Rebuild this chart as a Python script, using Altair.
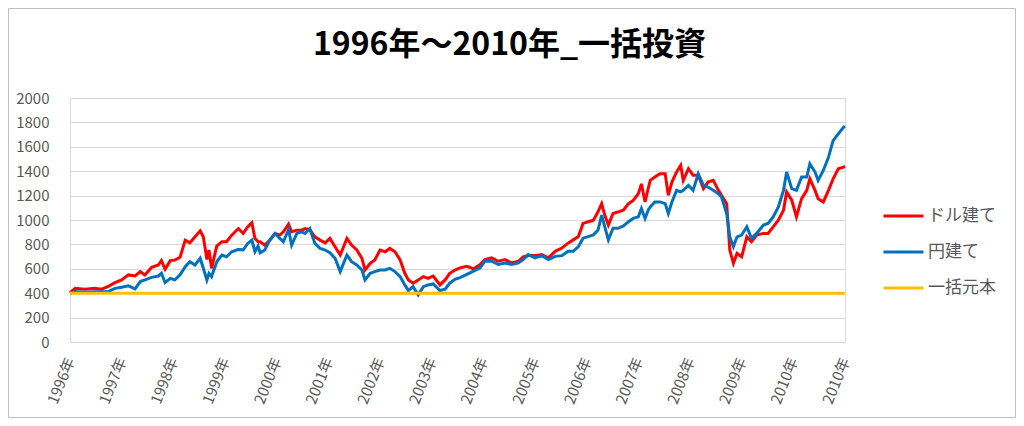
import json
import altair as alt
import pandas as pd

# time axis: years elapsed since the first tick (1996年)
T = [0.00, 0.10, 0.29, 0.48, 0.61, 0.74, 0.87, 1.00, 1.13, 1.26, 1.36, 1.45, 1.58, 1.71, 1.77, 1.84,
     1.94, 2.03, 2.13, 2.23, 2.32, 2.42, 2.52, 2.58, 2.65, 2.69, 2.74, 2.84, 2.94, 3.03, 3.13, 3.26,
     3.35, 3.44, 3.52, 3.58, 3.64, 3.68, 3.77, 3.87, 3.97, 4.06, 4.13, 4.23, 4.29, 4.39, 4.48, 4.55,
     4.64, 4.74, 4.84, 4.94, 5.03, 5.13, 5.23, 5.36, 5.45, 5.55, 5.65, 5.71, 5.81, 5.90, 6.00, 6.10,
     6.19, 6.29, 6.39, 6.48, 6.55, 6.64, 6.74, 6.84, 6.93, 7.03, 7.16, 7.26, 7.35, 7.45, 7.55, 7.68,
     7.81, 7.94, 8.03, 8.16, 8.29, 8.42, 8.55, 8.68, 8.77, 8.87, 9.00, 9.13, 9.26, 9.39, 9.52, 9.64,
     9.74, 9.84, 9.93, 10.03, 10.13, 10.22, 10.29, 10.35, 10.42, 10.51, 10.61, 10.71, 10.81, 10.90,
     11.00, 11.06, 11.13, 11.19, 11.23, 11.32, 11.42, 11.52, 11.58, 11.65, 11.74, 11.82, 11.87, 11.97,
     12.06, 12.16, 12.26, 12.35, 12.45, 12.55, 12.61, 12.71, 12.77, 12.84, 12.91, 13.00, 13.10, 13.19,
     13.29, 13.42, 13.51, 13.61, 13.71, 13.81, 13.87, 13.97, 14.06, 14.16, 14.26, 14.32, 14.42, 14.48,
     14.58, 14.68, 14.77, 14.87, 14.97, 15.00]

DOLLAR = [405, 440, 433, 440, 433, 455, 487, 509, 550, 541, 577, 550, 612, 631, 667, 596,
          667, 672, 694, 835, 813, 862, 911, 862, 677, 754, 604, 786, 822, 822, 876, 930,
          890, 944, 977, 849, 822, 822, 794, 835, 890, 876, 903, 966, 903, 917, 917, 930,
          922, 862, 835, 813, 849, 781, 713, 849, 794, 754, 686, 590, 645, 672, 754, 740,
          767, 740, 672, 563, 509, 482, 509, 536, 522, 541, 468, 509, 563, 590, 608, 621,
          600, 635, 675, 689, 662, 675, 648, 662, 697, 708, 708, 716, 689, 743, 770, 810,
          837, 864, 972, 986, 999, 1067, 1134, 1040, 959, 1053, 1067, 1080, 1134, 1161,
          1215, 1296, 1148, 1256, 1325, 1352, 1379, 1379, 1202, 1311, 1393, 1447, 1325, 1420,
          1366, 1366, 1257, 1311, 1325, 1243, 1202, 1134, 754, 645, 726, 699, 862, 822,
          876, 890, 890, 944, 998, 1080, 1230, 1162, 1026, 1175, 1243, 1338, 1243, 1175,
          1148, 1243, 1338, 1420, 1434, 1440]

YEN = [395, 413, 408, 411, 411, 413, 440, 449, 460, 435, 495, 509, 530, 541, 563, 487,
       522, 509, 550, 618, 658, 631, 686, 604, 509, 563, 536, 658, 713, 699, 740, 759,
       754, 808, 835, 740, 786, 732, 754, 840, 890, 849, 822, 922, 794, 890, 903, 890,
       930, 808, 767, 754, 732, 686, 577, 713, 658, 631, 590, 509, 563, 577, 590, 590,
       604, 577, 536, 468, 422, 454, 386, 454, 468, 476, 422, 433, 482, 514, 527, 554,
       581, 608, 662, 662, 635, 648, 635, 648, 675, 716, 689, 708, 675, 702, 708, 743,
       743, 783, 851, 864, 878, 918, 1040, 945, 837, 932, 932, 951, 986, 1013,
       1026, 1094, 1013, 1080, 1107, 1148, 1148, 1134, 1053, 1148, 1243, 1230, 1243, 1284,
       1243, 1379, 1284, 1270, 1243, 1216, 1189, 1053, 862, 781, 862, 876, 944, 849,
       890, 958, 971, 1026, 1107, 1243, 1393, 1257, 1243, 1352, 1352, 1461, 1393, 1325,
       1406, 1515, 1651, 1706, 1760, 1770]

PRINCIPAL_T = [0.0, 15.0]
PRINCIPAL = [400, 400]

SERIES = ["ドル建て", "円建て", "一括元本"]
COLORS = ["#FF0000", "#0070C0", "#FFC000"]

TICK_LABELS = ["1996年", "1997年", "1998年", "1999年", "2000年", "2001年", "2002年", "2003年",
               "2004年", "2005年", "2006年", "2007年", "2008年", "2009年", "2010年", "2010年"]
Y_TICKS = [0, 200, 400, 600, 800, 1000, 1200, 1400, 1600, 1800, 2000]

rows = []
for t, v in zip(T, DOLLAR):
    rows.append({"t": t, "value": v, "series": SERIES[0]})
for t, v in zip(T, YEN):
    rows.append({"t": t, "value": v, "series": SERIES[1]})
for t, v in zip(PRINCIPAL_T, PRINCIPAL):
    rows.append({"t": t, "value": v, "series": SERIES[2]})
df = pd.DataFrame(rows)

FONT = "Noto Sans CJK JP"
GRAY = "#595959"
label_expr = json.dumps(TICK_LABELS, ensure_ascii=False) + "[datum.value]"

lines = alt.Chart(df).mark_line(strokeWidth=3).encode(
    x=alt.X("t:Q",
            scale=alt.Scale(domain=[0, 15], nice=False, zero=False),
            axis=alt.Axis(values=list(range(16)), labelExpr=label_expr, title=None,
                          grid=False, domain=False, ticks=False, labelAngle=292,
                          labelAlign="right", labelBaseline="middle", labelPadding=16,
                          labelFontSize=15, labelColor=GRAY, labelFont=FONT,
                          labelOverlap=False, labelBound=False, labelFlush=False)),
    y=alt.Y("value:Q",
            scale=alt.Scale(domain=[0, 2000], nice=False),
            axis=alt.Axis(values=Y_TICKS, format="d", title=None, grid=True,
                          gridColor="#D9D9D9", gridWidth=1, domain=False, ticks=False,
                          labelPadding=21, labelFontSize=15, labelColor=GRAY,
                          labelFont=FONT)),
    color=alt.Color("series:N",
                    scale=alt.Scale(domain=SERIES, range=COLORS),
                    sort=SERIES,
                    legend=alt.Legend(title=None, orient="none", legendX=812, legendY=103,
                                      symbolType="stroke", symbolSize=1600,
                                      symbolStrokeWidth=3, labelFontSize=17,
                                      labelColor=GRAY, labelFont=FONT, labelOffset=3,
                                      rowPadding=6, clipHeight=30, padding=0)),
)

frame = alt.Chart(pd.DataFrame({"f": [0]})).mark_rect(
    filled=False, stroke="#BFBFBF", strokeWidth=1
).encode(
    x=alt.value(-61.5), x2=alt.value(945.5), y=alt.value(-89.5), y2=alt.value(319.5)
)

chart = alt.layer(lines, frame).properties(
    width=775,
    height=244,
    padding={"left": 62, "top": 90, "right": 171, "bottom": 76},
    autosize=alt.AutoSizeParams(type="none"),
    title=alt.TitleParams("1996年～2010年_一括投資", fontSize=32, font=FONT,
                          fontWeight="bold", color="#000000", anchor="middle",
                          dx=52, dy=86, offset=32),
).configure_view(stroke=None).configure(background="white")

chart.save("out.html", embed_options={"renderer": "svg", "actions": False})
